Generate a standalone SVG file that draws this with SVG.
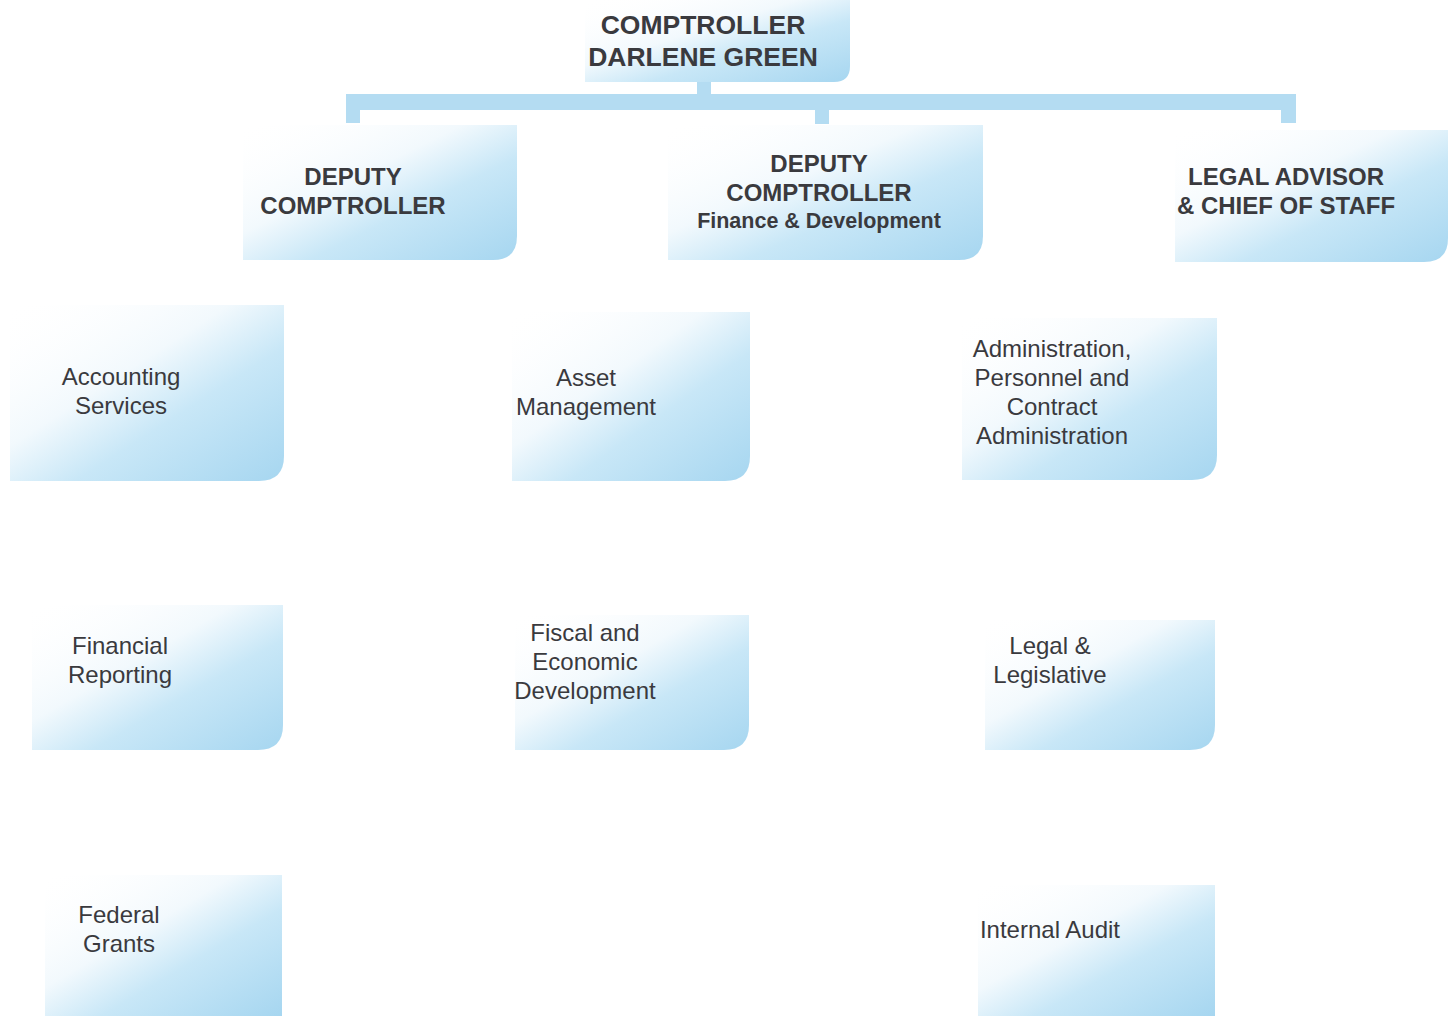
<svg xmlns="http://www.w3.org/2000/svg" width="1448" height="1016" viewBox="0 0 1448 1016">
<defs>
<linearGradient id="g" x1="0" y1="0" x2="1" y2="1">
<stop offset="0" stop-color="#ffffff" stop-opacity="0"/>
<stop offset="0.4" stop-color="#f2f9fd"/>
<stop offset="0.62" stop-color="#c8e7f7"/>
<stop offset="1" stop-color="#a6d6f0"/>
</linearGradient>
<style>
.box{fill:url(#g)}
.h{font-family:"Liberation Sans",Arial,sans-serif;font-weight:bold;fill:#3a3a3e;text-anchor:middle;font-size:24px}
.hh{font-size:26.5px}
.s{font-family:"Liberation Sans",Arial,sans-serif;font-weight:bold;fill:#3a3a3e;text-anchor:middle;font-size:21.5px}
.t{font-family:"Liberation Sans",Arial,sans-serif;fill:#3a3a3e;text-anchor:middle;font-size:24px}
.c{fill:#b4dcf2}
</style>
</defs>
<rect width="1448" height="1016" fill="#ffffff"/>
<g id="connectors">
<rect class="c" x="697" y="80" width="14" height="16"/>
<rect class="c" x="346" y="94" width="950" height="16"/>
<rect class="c" x="346" y="108" width="14" height="15"/>
<rect class="c" x="815" y="108" width="14" height="16"/>
<rect class="c" x="1281" y="108" width="15" height="15"/>
</g>
<g id="comptroller">
<path class="box" d="M585 0H850V66Q850 82 834 82H585Z"/>
<text class="h hh" x="703" y="34">COMPTROLLER</text>
<text class="h hh" x="703" y="66">DARLENE GREEN</text>
</g>
<g id="deputy">
<path class="box" d="M243 125H517V236Q517 260 493 260H243Z"/>
<text class="h" x="353" y="185">DEPUTY</text>
<text class="h" x="353" y="214">COMPTROLLER</text>
</g>
<g id="deputy-fd">
<path class="box" d="M668 125H983V236Q983 260 959 260H668Z"/>
<text class="h" x="819" y="172">DEPUTY</text>
<text class="h" x="819" y="201">COMPTROLLER</text>
<text class="s" x="819" y="228">Finance &amp; Development</text>
</g>
<g id="legal-advisor">
<path class="box" d="M1175 130H1448V238Q1448 262 1424 262H1175Z"/>
<text class="h" x="1286" y="185">LEGAL ADVISOR</text>
<text class="h" x="1286" y="214">&amp; CHIEF OF STAFF</text>
</g>
<g id="accounting">
<path class="box" d="M10 305H284V456Q284 481 259 481H10Z"/>
<text class="t" x="121" y="385">Accounting</text>
<text class="t" x="121" y="414">Services</text>
</g>
<g id="asset">
<path class="box" d="M512 312H750V456Q750 481 725 481H512Z"/>
<text class="t" x="586" y="386">Asset</text>
<text class="t" x="586" y="415">Management</text>
</g>
<g id="administration">
<path class="box" d="M962 318H1217V455Q1217 480 1192 480H962Z"/>
<text class="t" x="1052" y="357">Administration,</text>
<text class="t" x="1052" y="386">Personnel and</text>
<text class="t" x="1052" y="415">Contract</text>
<text class="t" x="1052" y="444">Administration</text>
</g>
<g id="financial-reporting">
<path class="box" d="M32 605H283V725Q283 750 258 750H32Z"/>
<text class="t" x="120" y="654">Financial</text>
<text class="t" x="120" y="683">Reporting</text>
</g>
<g id="fiscal">
<path class="box" d="M515 615H749V725Q749 750 724 750H515Z"/>
<text class="t" x="585" y="641">Fiscal  and</text>
<text class="t" x="585" y="670">Economic</text>
<text class="t" x="585" y="699">Development</text>
</g>
<g id="legal-legislative">
<path class="box" d="M985 620H1215V725Q1215 750 1190 750H985Z"/>
<text class="t" x="1050" y="654">Legal &amp;</text>
<text class="t" x="1050" y="683">Legislative</text>
</g>
<g id="federal-grants">
<path class="box" d="M45 875H282V1016H45Z"/>
<text class="t" x="119" y="923">Federal</text>
<text class="t" x="119" y="952">Grants</text>
</g>
<g id="internal-audit">
<path class="box" d="M978 885H1215V1016H978Z"/>
<text class="t" x="1050" y="938">Internal Audit</text>
</g>
</svg>
